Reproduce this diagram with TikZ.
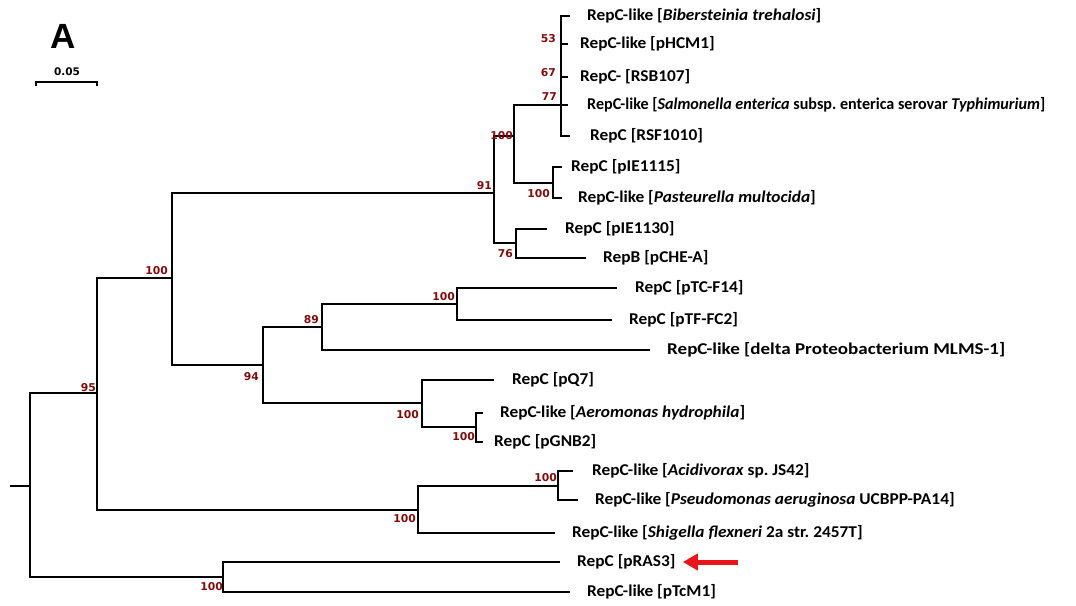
\documentclass[tikz,border=0pt]{standalone}
\usepackage{fontspec}
\usepackage{graphicx}
\setmainfont{Carlito}[FakeStretch=1.05]
\newfontfamily\bsfont{DejaVu Sans}
\newfontfamily\hdfont{Liberation Sans}
\usetikzlibrary{arrows.meta}
\definecolor{bootred}{RGB}{128,12,12}
\definecolor{arrowred}{RGB}{232,22,26}
\frenchspacing
\tikzset{
  branch/.style={line width=1.8pt, draw=black},
  leaflab/.style={anchor=west, inner sep=0pt, font=\fontsize{16.5}{18}\selectfont\bfseries},
  boot/.style={anchor=east, inner sep=0pt, text=bootred, font=\bsfont\fontsize{10.8}{12}\selectfont\bfseries},
  pointer/.style={draw=arrowred, line width=5pt, -{Triangle[length=15pt,width=16pt]}},
}
\begin{document}
\begin{tikzpicture}[x=1pt,y=-1pt]
\useasboundingbox (0,0) rectangle (1076,605);
% panel letter and scale bar
\node[inner sep=0pt, font=\hdfont\fontsize{35}{36}\selectfont\bfseries] (panel) at (63,36) {A};
\coordinate (sbl) at (36,82);
\coordinate (sbr) at (97,82);
\draw[line width=1.2pt] ([yshift=-4pt]sbl) -- (sbl) -- (sbr) -- ([yshift=-4pt]sbr);
\node[inner sep=0pt, font=\bsfont\fontsize{10.5}{11}\selectfont\bfseries] (sblab) at (67,72) {0.05};
% internal nodes (x of vertical, y of incoming branch)
\coordinate (r0) at (10,486);
\coordinate (R) at (30,486);
\coordinate (n95) at (97,393);
\coordinate (n223) at (223,577);
\coordinate (n172) at (172,278);
\coordinate (n418) at (418,510);
\coordinate (n91) at (494,193);
\coordinate (n94) at (263,365);
\coordinate (n514) at (514,136);
\coordinate (n76) at (516,243);
\coordinate (n77) at (561,105);
\coordinate (n553) at (553,183);
\coordinate (n89) at (322,327);
\coordinate (n422) at (422,403);
\coordinate (n457) at (457,304);
\coordinate (n476) at (476,427);
\coordinate (n558) at (558,486);
% leaf tips
\coordinate (t1) at (570,16);
\coordinate (t2) at (568,44);
\coordinate (t3) at (568,77);
\coordinate (t4) at (568,105);
\coordinate (t5) at (570,136);
\coordinate (t6) at (562,167);
\coordinate (t7) at (562,198);
\coordinate (t8) at (547,229);
\coordinate (t9) at (586,258);
\coordinate (t10) at (617,288);
\coordinate (t11) at (612,320);
\coordinate (t12) at (650,350);
\coordinate (t13) at (494,380);
\coordinate (t14) at (483,413);
\coordinate (t15) at (483,442);
\coordinate (t16) at (573,471);
\coordinate (t17) at (578,500);
\coordinate (t18) at (555,533);
\coordinate (t19) at (560,562);
\coordinate (t20) at (570,592);
% branches
\draw[branch] (r0) -- (R);
\draw[branch] (R) |- (n95);
\draw[branch] (R) |- (n223);
\draw[branch] (n95) |- (n172);
\draw[branch] (n95) |- (n418);
\draw[branch] (n172) |- (n91);
\draw[branch] (n172) |- (n94);
\draw[branch] (n91) |- (n514);
\draw[branch] (n91) |- (n76);
\draw[branch] (n514) |- (n77);
\draw[branch] (n514) |- (n553);
\draw[branch] (n77) |- (t1);
\draw[branch] (n77) |- (t2);
\draw[branch] (n77) |- (t3);
\draw[branch] (n77) |- (t4);
\draw[branch] (n77) |- (t5);
\draw[branch] (n553) |- (t6);
\draw[branch] (n553) |- (t7);
\draw[branch] (n76) |- (t8);
\draw[branch] (n76) |- (t9);
\draw[branch] (n94) |- (n89);
\draw[branch] (n94) |- (n422);
\draw[branch] (n89) |- (n457);
\draw[branch] (n89) |- (t12);
\draw[branch] (n457) |- (t10);
\draw[branch] (n457) |- (t11);
\draw[branch] (n422) |- (t13);
\draw[branch] (n422) |- (n476);
\draw[branch] (n476) |- (t14);
\draw[branch] (n476) |- (t15);
\draw[branch] (n418) |- (n558);
\draw[branch] (n418) |- (t18);
\draw[branch] (n558) |- (t16);
\draw[branch] (n558) |- (t17);
\draw[branch] (n223) |- (t19);
\draw[branch] (n223) |- (t20);
% leaf labels
\node[leaflab] (l1) at (587,16) {RepC-like [\textit{Bibersteinia trehalosi}]};
\node[leaflab] (l2) at (580,44) {RepC-like [pHCM1]};
\node[leaflab] (l3) at (580,77) {RepC- [RSB107]};
\node[leaflab] (l4) at (587,105) {\scalebox{0.93}[1]{RepC-like [\textit{Salmonella enterica} subsp. enterica serovar \textit{Typhimurium}]}};
\node[leaflab] (l5) at (590,136) {RepC [RSF1010]};
\node[leaflab] (l6) at (571,167) {RepC [pIE1115]};
\node[leaflab] (l7) at (578,198) {RepC-like [\textit{Pasteurella multocida}]};
\node[leaflab] (l8) at (565,229) {RepC [pIE1130]};
\node[leaflab] (l9) at (603,258) {RepB [pCHE-A]};
\node[leaflab] (l10) at (635,288) {RepC [pTC-F14]};
\node[leaflab] (l11) at (629,320) {RepC [pTF-FC2]};
\node[leaflab] (l12) at (667,350) {\scalebox{1.1}[1]{RepC-like [delta Proteobacterium MLMS-1]}};
\node[leaflab] (l13) at (512,380) {RepC [pQ7]};
\node[leaflab] (l14) at (500,413) {RepC-like [\textit{Aeromonas hydrophila}]};
\node[leaflab] (l15) at (494,442) {RepC [pGNB2]};
\node[leaflab] (l16) at (592,471) {RepC-like [\textit{Acidivorax} sp. JS42]};
\node[leaflab] (l17) at (595,500) {RepC-like [\textit{Pseudomonas aeruginosa} UCBPP-PA14]};
\node[leaflab] (l18) at (572,533) {RepC-like [\textit{Shigella flexneri} 2a str. 2457T]};
\node[leaflab] (l19) at (577,562) {RepC [pRAS3]};
\node[leaflab] (l20) at (587,592) {RepC-like [pTcM1]};
% bootstrap values
\node[boot] (b53) at (556,39) {53};
\node[boot] (b67) at (556,73) {67};
\node[boot] (b77) at (557,97) {77};
\node[boot] (b514) at (513,136) {100};
\node[boot] (b91) at (492,186) {91};
\node[boot] (b553) at (550,194) {100};
\node[boot] (b76) at (513,254) {76};
\node[boot] (b172) at (168,271) {100};
\node[boot] (b95) at (96,388) {95};
\node[boot] (b89) at (319,320) {89};
\node[boot] (b457) at (455,297) {100};
\node[boot] (b94) at (259,377) {94};
\node[boot] (b422) at (419,415) {100};
\node[boot] (b476) at (475,437) {100};
\node[boot] (b418) at (416,519) {100};
\node[boot] (b558) at (557,478) {100};
\node[boot] (b223) at (223,587) {100};
% red pointer
\coordinate (arrtail) at (738,562);
\draw[pointer] (arrtail) -- ([xshift=7pt]l19.east);
\end{tikzpicture}
\end{document}
